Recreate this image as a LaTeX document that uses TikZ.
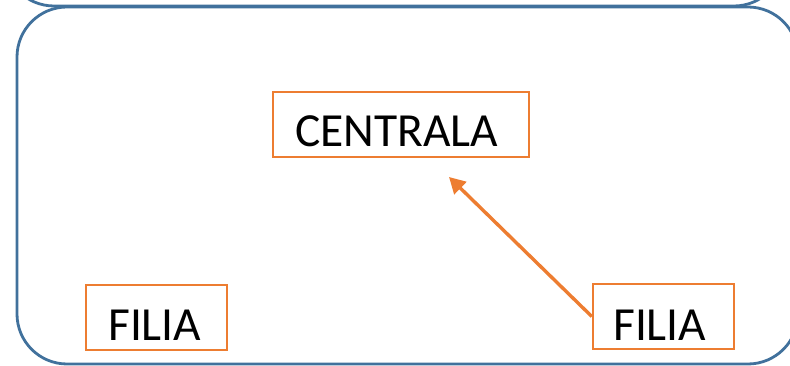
\documentclass[tikz,border=0pt]{standalone}
\usepackage{fontspec}
\setmainfont{Carlito}
\usetikzlibrary{arrows.meta}
\definecolor{frameblue}{HTML}{41719C}
\definecolor{boxorange}{HTML}{ED7D31}
\tikzset{
  frame/.style={draw=frameblue, line width=2.8pt, rounded corners=50pt},
  obox/.style={draw=boxorange, line width=2.4pt, rectangle, inner sep=0pt},
  lbl/.style={font=\fontsize{47.5}{52}\selectfont, inner sep=0pt, text=black},
  arr/.style={draw=boxorange, line width=3.4pt, -{Triangle[length=16pt,width=17pt]}}
}
\begin{document}
\begin{tikzpicture}[x=1pt,y=-1pt]
\useasboundingbox (0,0) rectangle (790,366);
\clip (0,0) rectangle (790,366);
\draw[frame] (4,-200) rectangle (784,6);
\draw[frame] (17,7) rectangle (798,364);
\node[obox, minimum width=256pt, minimum height=65pt] (c) at (401,124.5) {};
\node[lbl, anchor=base west] (ct) at (295,147) {CENTRALA};
\node[obox, minimum width=141pt, minimum height=65pt] (f1) at (156.5,317.5) {};
\node[lbl, anchor=base west] (f1t) at (108,340) {FILIA};
\node[obox, minimum width=141pt, minimum height=65pt] (f2) at (663.5,316.5) {};
\node[lbl, anchor=base west] (f2t) at (613,340) {FILIA};
\coordinate (tip) at (449,177);
\draw[arr] (f2.west) -- (tip);
\end{tikzpicture}
\end{document}
